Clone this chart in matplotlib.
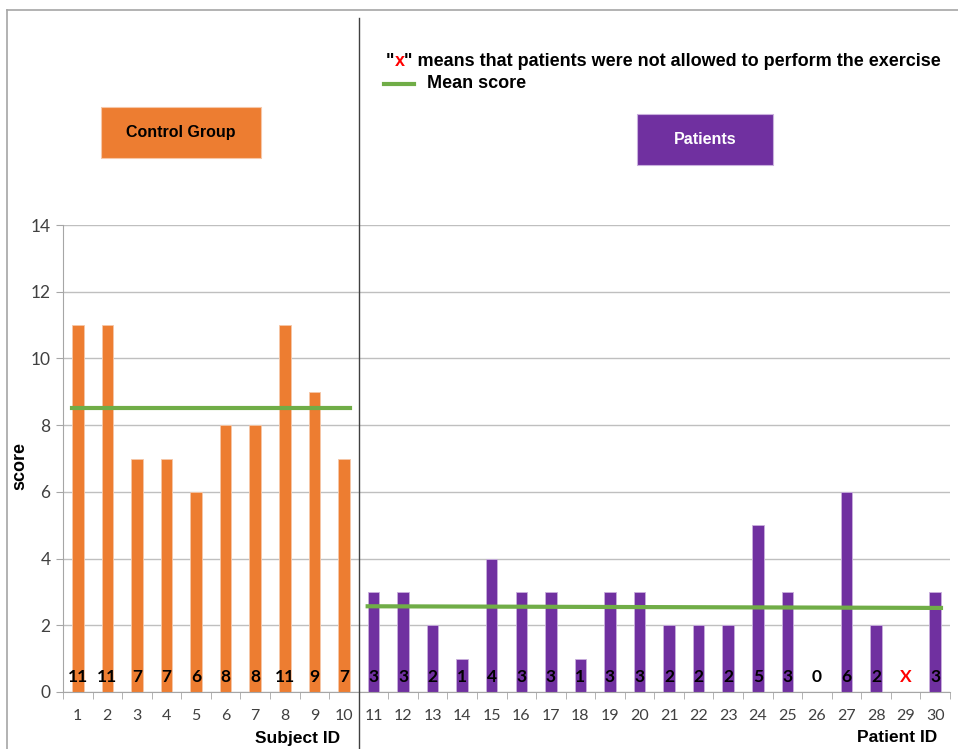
import matplotlib
matplotlib.use('Agg')
import matplotlib.pyplot as plt
import numpy as np
from matplotlib.patches import Rectangle
from matplotlib.lines import Line2D

# data
control_ids = list(range(1, 11))
control_scores = [11, 11, 7, 7, 6, 8, 8, 11, 9, 7]
patient_ids = list(range(11, 31))
patient_scores = [3, 3, 2, 1, 4, 3, 3, 1, 3, 3, 2, 2, 2, 5, 3, 0, 6, 2, np.nan, 3]
control_mean = [8.5, 8.5]
patient_mean = [2.57, 2.52]

orange = '#ED7D31'
purple = '#7030A0'
green = '#70AD47'
W, H = 958, 749
bar_w = 0.39

fig = plt.figure(figsize=(W / 100, H / 100), dpi=100)
ax = fig.add_axes([63 / W, 1 - 692 / H, (950 - 63) / W, (692 - 225) / H])

ax.bar(control_ids, control_scores, width=bar_w, color=orange, edgecolor='#f6c7a8', linewidth=0.6, zorder=2)
ax.bar(patient_ids, np.nan_to_num(patient_scores), width=bar_w, color=purple, edgecolor='#c9b0dd', linewidth=0.6, zorder=2)

ax.plot([control_ids[0] - bar_w / 2, control_ids[-1] + bar_w / 2], control_mean, color=green, lw=3, zorder=3)
ax.plot([patient_ids[0] - bar_w / 2, patient_ids[-1] + bar_w / 2], patient_mean, color=green, lw=3, zorder=3)

# value labels near the base
for x, v in zip(control_ids + patient_ids, control_scores + patient_scores):
    if np.isnan(v):
        ax.text(x, 0.45, 'X', ha='center', va='center', color='red', fontsize=12.5,
                fontweight='bold', family='Lato', zorder=4)
    else:
        ax.text(x, 0.45, str(int(v)), ha='center', va='center', color='black', fontsize=12.5,
                fontweight='bold', family='Lato', zorder=4)

ax.set_xlim(0.5, 30.5)
ax.set_ylim(0, 14)
ax.set_yticks(range(0, 15, 2))
ax.set_xticks(control_ids + patient_ids)
ax.set_xticks(np.arange(0.5, 31, 1), minor=True)
ax.tick_params(axis='x', which='major', length=0, pad=12, labelsize=11.5, labelcolor='#404040')
ax.tick_params(axis='x', which='minor', length=5, color='#a6a6a6')
ax.tick_params(axis='y', length=5, color='#a6a6a6', labelsize=12.5, labelcolor='#404040', pad=4)
for lab in ax.get_xticklabels() + ax.get_yticklabels():
    lab.set_family('Lato')
ax.grid(axis='y', color='#bfbfbf', lw=1, zorder=0)
ax.set_axisbelow(True)
for s in ['top', 'right']:
    ax.spines[s].set_visible(False)
ax.spines['left'].set_color('#a6a6a6')
ax.spines['bottom'].set_color('#a6a6a6')
ax.set_ylabel('score', fontsize=13, fontweight='bold', family='Liberation Sans')
ax.yaxis.set_label_coords((28 - 63) / (950 - 63), (692 - 466) / (692 - 225))

# figure decorations in pixel positions
def fx(px):
    return px / W

def fy(py):
    return 1 - py / H

fig.add_artist(Line2D([fx(7), fx(7)], [fy(10), 0], color='#a6a6a6', lw=1.2))
fig.add_artist(Line2D([fx(7), 1], [fy(10), fy(10)], color='#a6a6a6', lw=1.2))
fig.add_artist(Line2D([fx(359), fx(359)], [fy(18), 0], color='#404040', lw=1))

fig.add_artist(Rectangle((fx(101), fy(158)), fx(160), 51 / H, transform=fig.transFigure,
                         facecolor=orange, edgecolor='#f6c7a8', lw=0.8))
fig.text(fx(181), fy(133), 'Control Group', ha='center', va='center', fontsize=11.5,
         fontweight='bold', family='Liberation Sans', color='black')
fig.add_artist(Rectangle((fx(637), fy(165)), fx(136), 51 / H, transform=fig.transFigure,
                         facecolor=purple, edgecolor='#c9b0dd', lw=0.8))
fig.text(fx(705), fy(140), 'Patients', ha='center', va='center', fontsize=11.5,
         fontweight='bold', family='Liberation Sans', color='white')

fig.text(fx(298), fy(738), 'Subject ID', ha='center', va='center', fontsize=12.5,
         fontweight='bold', family='Liberation Sans')
fig.text(fx(897), fy(738), 'Patient ID', ha='center', va='center', fontsize=12.5,
         fontweight='bold', family='Liberation Sans')

# legend-like note with a red x
kw = dict(fontsize=13, fontweight='bold', family='Liberation Sans', va='baseline')
t1 = fig.text(fx(386), fy(66), '"', **kw)
t2 = fig.text(0, 0, 'x', color='red', **kw)
t3 = fig.text(0, 0, '" means that patients were not allowed to perform the exercise', **kw)
fig.canvas.draw()
r = fig.canvas.get_renderer()
b1 = t1.get_window_extent(r)
t2.set_position((b1.x1 / W, fy(66)))
b2 = t2.get_window_extent(r)
t3.set_position((b2.x1 / W, fy(66)))

fig.add_artist(Line2D([fx(384), fx(414)], [fy(84), fy(84)], color=green, lw=3))
fig.text(fx(427), fy(84), 'Mean score', ha='left', va='center', fontsize=13,
         fontweight='bold', family='Liberation Sans')

fig.savefig('out.png', dpi=100)
